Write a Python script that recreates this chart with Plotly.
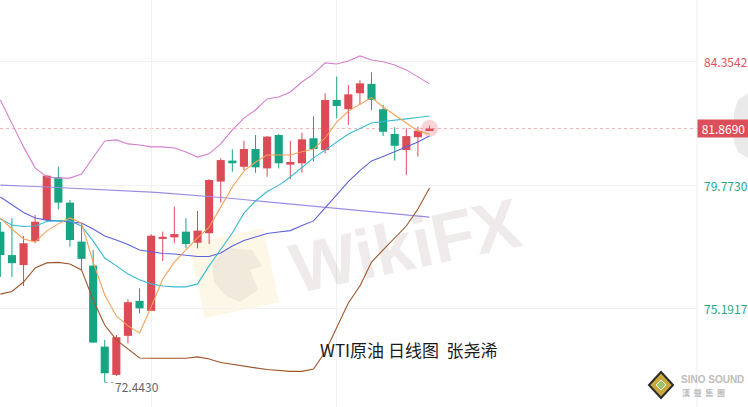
import math
import plotly.graph_objects as go

# ---------------- data ----------------
days = list(range(-1, 37))
opens = [78.04, 77.17, 76.80, 77.69, 78.47, 80.06, 79.12, 77.67, 76.78, 73.77,
         72.72, 74.17, 75.47, 75.10, 77.77, 77.83, 78.04, 77.63, 77.98, 79.90,
         80.68, 80.45, 81.11, 80.39, 81.63, 80.53, 80.58, 81.51, 81.07, 82.93,
         82.59, 83.18, 83.53, 82.59, 81.67, 81.07, 81.55, 81.78]
highs = [78.40, 78.54, 77.88, 78.66, 80.14, 80.45, 79.22, 78.36, 77.36, 74.02,
         74.20, 75.53, 75.94, 77.95, 78.04, 78.97, 78.54, 78.81, 79.99, 80.77,
         81.10, 81.42, 81.63, 81.60, 81.67, 81.41, 81.72, 82.32, 83.18, 83.80,
         83.49, 83.67, 83.96, 82.75, 81.92, 81.88, 81.94, 81.98]
lows = [76.36, 76.35, 76.02, 77.61, 78.44, 78.87, 77.48, 76.62, 73.91, 72.443,
        72.68, 73.89, 75.01, 75.09, 76.95, 77.61, 77.42, 77.42, 77.58, 79.12,
        80.27, 80.33, 80.23, 80.08, 80.39, 79.99, 80.23, 80.64, 80.95, 82.25,
        82.00, 82.75, 82.56, 81.59, 80.68, 80.15, 80.83, 81.78]
closes = [77.17, 76.87, 77.61, 78.41, 80.12, 79.12, 77.73, 77.03, 73.92, 72.78,
          74.12, 75.42, 75.19, 77.89, 77.85, 77.95, 77.58, 78.08, 79.96, 80.70,
          80.58, 81.11, 80.43, 81.57, 80.58, 80.63, 81.47, 81.11, 82.93, 82.71,
          83.14, 83.55, 82.93, 81.75, 81.23, 81.59, 81.79, 81.869]

ma5 = [78.55, 78.14, 77.77, 77.66, 78.07, 78.33, 78.55, 78.36, 76.91, 75.69,
       74.91, 74.54, 74.28, 75.24, 76.28, 76.91, 77.36, 77.81, 78.21, 78.96,
       79.70, 80.29, 80.63, 80.89, 80.89, 80.89, 81.01, 81.11, 81.52, 82.11,
       82.52, 82.78, 83.02, 82.67, 82.37, 82.08, 81.78, 81.67]
ma10 = [78.51, 78.29, 78.23, 78.25, 78.42, 78.45, 78.44, 78.25, 77.69, 77.06,
        76.77, 76.47, 76.25, 76.10, 76.02, 75.99, 75.99, 76.10, 76.77, 77.36,
        77.99, 78.73, 79.18, 79.53, 79.76, 80.07, 80.44, 80.78, 81.07, 81.38,
        81.67, 81.87, 82.08, 82.13, 82.17, 82.23, 82.28, 82.34]
ma20 = [79.33, 79.03, 78.75, 78.55, 78.47, 78.44, 78.40, 78.36, 78.14, 77.88,
        77.73, 77.56, 77.36, 77.29, 77.23, 77.21, 77.16, 77.12, 77.12, 77.25,
        77.51, 77.71, 77.84, 77.97, 78.03, 78.08, 78.27, 78.44, 78.92, 79.40,
        79.90, 80.31, 80.67, 80.83, 81.00, 81.19, 81.37, 81.59]
ma_long = [79.77, 79.76, 79.74, 79.72, 79.70, 79.68, 79.66, 79.64, 79.63, 79.60,
           79.58, 79.56, 79.53, 79.51, 79.48, 79.45, 79.42, 79.38, 79.35, 79.31,
           79.27, 79.23, 79.19, 79.15, 79.11, 79.07, 79.03, 78.99, 78.95, 78.90,
           78.86, 78.82, 78.78, 78.74, 78.70, 78.66, 78.62, 78.58]
boll_up = [82.93, 82.04, 81.19, 80.41, 80.07, 80.03, 80.03, 80.18, 80.78, 81.41,
           81.45, 81.30, 81.26, 81.19, 81.19, 81.15, 81.00, 80.81, 80.93, 81.30,
           81.82, 82.26, 82.56, 82.97, 83.04, 83.23, 83.60, 83.90, 84.31, 84.27,
           84.38, 84.57, 84.42, 84.35, 84.23, 84.05, 83.79, 83.53]
boll_dn = [75.72, 75.82, 76.17, 76.69, 76.88, 76.90, 76.84, 76.62, 75.50, 74.57,
           74.02, 73.68, 73.35, 73.34, 73.34, 73.34, 73.34, 73.39, 73.31, 73.18,
           73.11, 73.03, 72.98, 72.92, 72.88, 72.85, 72.85, 72.94, 73.57, 74.46,
           75.39, 76.02, 76.91, 77.36, 77.79, 78.25, 78.88, 79.66]

axis_labels = [84.3542, 79.7730, 75.1917]
grid_days = [12, 28]
last_price = 81.869
low_day = 8
low_value = 72.443
title_text = "WTI原油 日线图  张尧浠"

# ---------------- style ----------------
W, H = 748, 407
PLOT_W = 697
RED = "#dc4b56"
GREEN = "#17a584"
FONT = "Noto Sans CJK SC, Noto Sans, sans-serif"


def px(x):
    return x / PLOT_W


def py(y):
    return 1 - y / H


fig = go.Figure()

# wicks
for col, pick in ((RED, True), (GREEN, False)):
    xs, ys = [], []
    for d, o, h, l, c in zip(days, opens, highs, lows, closes):
        if (c >= o) == pick:
            xs += [d, d, None]
            ys += [l, h, None]
    fig.add_trace(go.Scatter(x=xs, y=ys, mode="lines", line=dict(color=col, width=1),
                             hoverinfo="skip", showlegend=False))

# bodies
min_body = 0.07
bases, heights, colors = [], [], []
for o, c in zip(opens, closes):
    body = abs(c - o)
    hgt = max(body, min_body)
    bases.append(min(o, c) - (hgt - body) / 2)
    heights.append(hgt)
    colors.append(RED if c >= o else GREEN)
fig.add_trace(go.Bar(x=days, y=heights, base=bases, width=0.7,
                     marker=dict(color=colors, line=dict(width=0)),
                     hoverinfo="skip", showlegend=False))

# halo on last candle
fig.add_trace(go.Scatter(x=[days[-1]], y=[last_price], mode="markers",
                         marker=dict(size=17, color="rgba(232,100,112,0.28)"),
                         hoverinfo="skip", showlegend=False))

lines = [
    (ma_long, "#9d8ce6"),
    (boll_up, "#d67fcf"),
    (boll_dn, "#a0562c"),
    (ma20, "#5e62dc"),
    (ma10, "#38bad2"),
    (ma5, "#f5a157"),
]
for vals, col in lines:
    fig.add_trace(go.Scatter(x=days, y=vals, mode="lines",
                             line=dict(color=col, width=1.1),
                             hoverinfo="skip", showlegend=False))

shapes = []
# current price dotted line
shapes.append(dict(type="line", xref="paper", yref="y", x0=0, x1=1,
                   y0=last_price, y1=last_price,
                   line=dict(color="#eeb2b8", width=1, dash="dot"), layer="below"))
# separator
shapes.append(dict(type="line", xref="paper", yref="paper", x0=1, x1=1, y0=0, y1=1,
                   line=dict(color="#eeeeee", width=1)))
# low leader
shapes.append(dict(type="line", xref="x", yref="y", x0=low_day, x1=low_day + 0.75,
                   y0=low_value, y1=low_value,
                   line=dict(color="#999999", width=1, dash="dot")))

# watermark logo square (rotated)
cx, cy, half, ang = 234, 273, 38, math.radians(-12)
pts = []
for dx, dy in ((-half, -half), (half, -half), (half, half), (-half, half)):
    rx = cx + dx * math.cos(ang) - dy * math.sin(ang)
    ry = cy + dx * math.sin(ang) + dy * math.cos(ang)
    pts.append((px(rx), py(ry)))
path = "M " + " L ".join(f"{a:.4f},{b:.4f}" for a, b in pts) + " Z"
shapes.append(dict(type="path", xref="paper", yref="paper", path=path,
                   fillcolor="rgba(248,225,160,0.25)", line=dict(width=0), layer="below"))
# eagle-ish blob
epts = [(212, 262), (228, 248), (252, 250), (262, 266), (250, 270), (258, 290),
        (240, 302), (226, 296), (214, 282)]
epath = "M " + " L ".join(f"{px(a):.4f},{py(b):.4f}" for a, b in epts) + " Z"
shapes.append(dict(type="path", xref="paper", yref="paper", path=epath,
                   fillcolor="rgba(120,105,100,0.09)", line=dict(width=0), layer="below"))

# collapse button hexagon
hexpts = [(748, 93), (738, 100), (734, 112), (734, 142), (738, 152), (748, 158)]
hpath = "M " + " L ".join(f"{px(a):.4f},{py(b):.4f}" for a, b in hexpts) + " Z"
shapes.append(dict(type="path", xref="paper", yref="paper", path=hpath,
                   fillcolor="rgba(225,225,225,0.7)", line=dict(width=0), layer="above"))

# sino sound diamond
dpts = [(661, 372), (673, 385), (661, 398), (649, 385)]
dpath = "M " + " L ".join(f"{px(a):.4f},{py(b):.4f}" for a, b in dpts) + " Z"
shapes.append(dict(type="path", xref="paper", yref="paper", path=dpath,
                   fillcolor="#c9a93a", line=dict(color="#2b2b2b", width=2)))
ipts = [(661, 380), (666, 385), (661, 390), (656, 385)]
ipath = "M " + " L ".join(f"{px(a):.4f},{py(b):.4f}" for a, b in ipts) + " Z"
shapes.append(dict(type="path", xref="paper", yref="paper", path=ipath,
                   fillcolor="#9cc46a", line=dict(color="#f2f2f2", width=1)))

annotations = []
label_colors = ["#e0525c", "#1fa887", "#1fa887"]
for v, col in zip(axis_labels, label_colors):
    annotations.append(dict(xref="paper", yref="y", x=1, y=v, xanchor="left",
                            yanchor="middle", xshift=5, showarrow=False,
                            text=f"{v:.4f}", font=dict(family=FONT, size=12, color=col)))
annotations.append(dict(xref="paper", yref="y", x=1, y=last_price, xanchor="left",
                        yanchor="middle", showarrow=False, text=f"{last_price:.4f}",
                        bgcolor="#dc4f5a", width=47, height=13, borderpad=2,
                        font=dict(family=FONT, size=12, color="white")))
annotations.append(dict(xref="x", yref="y", x=low_day + 0.75, y=low_value, xanchor="left",
                        yanchor="middle", yshift=-4, showarrow=False,
                        text=f"{low_value:.4f}", font=dict(family=FONT, size=12, color="#666666")))
annotations.append(dict(xref="paper", yref="paper", x=px(318), y=py(349), xanchor="left",
                        yanchor="middle", showarrow=False, text=title_text,
                        font=dict(family=FONT, size=17, color="#1a1a1a")))
annotations.append(dict(xref="paper", yref="paper", x=px(405), y=py(246), showarrow=False,
                        text="<b>WikiFX</b>", textangle=-12,
                        font=dict(family="Liberation Sans, Arial, sans-serif", size=70,
                                  color="rgba(120,100,95,0.13)")))
annotations.append(dict(xref="paper", yref="paper", x=px(679), y=py(379), xanchor="left",
                        yanchor="middle", showarrow=False,
                        text="<b>SINO SOUND</b>",
                        font=dict(family="Liberation Sans Narrow, Liberation Sans, Arial",
                                  size=10, color="#bdbdbd")))
annotations.append(dict(xref="paper", yref="paper", x=px(680), y=py(392), xanchor="left",
                        yanchor="middle", showarrow=False,
                        text="<b>漢  聲  集  團</b>",
                        font=dict(family=FONT, size=8, color="#bdbdbd")))

fig.update_layout(
    width=W, height=H,
    margin=dict(l=0, r=W - PLOT_W, t=0, b=0),
    paper_bgcolor="white", plot_bgcolor="white",
    barmode="overlay", showlegend=False,
    shapes=shapes, annotations=annotations,
    xaxis=dict(range=[-1.03, 59.06], tickvals=grid_days, showticklabels=False,
               showgrid=True, gridcolor="#f1f1f1", gridwidth=1, zeroline=False,
               ticks="", fixedrange=True),
    yaxis=dict(range=[71.527, 86.646], tickvals=axis_labels, showticklabels=False,
               showgrid=True, gridcolor="#f1f1f1", gridwidth=1, zeroline=False,
               ticks="", fixedrange=True),
)

fig.write_html(
    "out.html",
    config={"displayModeBar": False},
    post_script="document.body.style.margin='0';document.body.style.padding='0';"
                "document.documentElement.style.overflow='hidden';",
)
